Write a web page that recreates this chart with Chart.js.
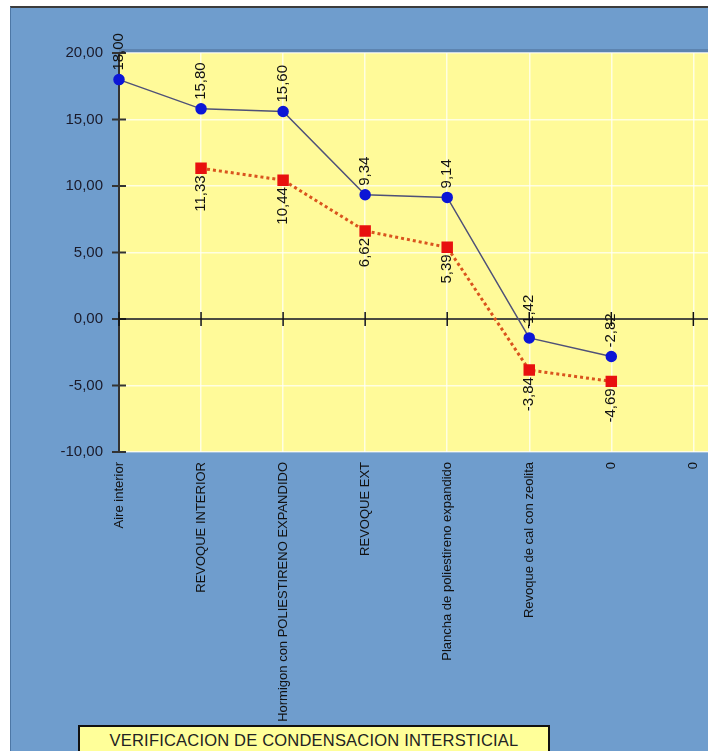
<!DOCTYPE html>
<html>
<head>
<meta charset="utf-8">
<script src="https://cdn.jsdelivr.net/npm/chart.js@4.4.1/dist/chart.umd.min.js"></script>
<style>
  html, body { margin: 0; padding: 0; overflow: hidden; background: #fff; width: 708px; height: 751px; }
  #frame { position: absolute; left: 10px; top: 6px; width: 820px; height: 760px;
           background: #6f9dcd; border-top: 2px solid #3c3c3c; border-left: 1px solid #4d77a5; }
  #chart { position: absolute; left: 0; top: 0; }
  #title { position: absolute; left: 78px; top: 725px; width: 472px; height: 30px;
           background: #ffff99; border: 2px solid #111; box-sizing: border-box;
           font: 16.5px "Liberation Sans", Arial, sans-serif; color: #222;
           text-align: center; padding-top: 4px; letter-spacing: 0.2px; }
</style>
</head>
<body>
<div id="frame"></div>
<canvas id="chart" width="801" height="751"></canvas>
<div id="title">VERIFICACION DE CONDENSACION INTERSTICIAL</div>
<script>
// layer names along the wall (last one is an empty spacer past the right edge)
const categories = ['Aire interior', 'REVOQUE INTERIOR', 'Hormigon con POLIESTIRENO EXPANDIDO',
  'REVOQUE EXT', 'Plancha de poliestireno expandido', 'Revoque de cal con zeolita', '0', '0', ''];

// temperature (blue) and dew point (red)
const temperature = [18.00, 15.80, 15.60, 9.34, 9.14, -1.42, -2.82, null, null];
const dewPoint = [null, 11.33, 10.44, 6.62, 5.39, -3.84, -4.69, null, null];

const yMin = -10, yMax = 20, yStep = 5;

const plotColor = '#fffa99';
const fmt = v => v.toFixed(2).replace('.', ',');

const decor = {
  id: 'decor',
  beforeDraw(chart) {
    const { ctx, chartArea: a } = chart;
    ctx.save();
    ctx.fillStyle = 'rgba(40,60,90,0.25)';
    ctx.fillRect(a.left, a.top - 4, a.right - a.left, 4);
    ctx.fillStyle = plotColor;
    ctx.fillRect(a.left, a.top, a.right - a.left, a.bottom - a.top);
    ctx.restore();
  },
  beforeDatasetsDraw(chart) {
    const { ctx, chartArea: a, scales: { x, y } } = chart;
    ctx.save();
    // y tick marks crossing the axis
    ctx.strokeStyle = '#333';
    ctx.lineWidth = 2;
    y.ticks.forEach((t, i) => {
      const py = y.getPixelForTick(i);
      ctx.beginPath();
      ctx.moveTo(a.left - 7, py);
      ctx.lineTo(a.left + 7, py);
      ctx.stroke();
    });
    // zero line with category ticks
    const y0 = y.getPixelForValue(0);
    ctx.strokeStyle = '#111';
    ctx.lineWidth = 1.5;
    ctx.beginPath();
    ctx.moveTo(a.left, y0);
    ctx.lineTo(a.right, y0);
    ctx.stroke();
    categories.forEach((c, i) => {
      const px = x.getPixelForValue(i);
      ctx.beginPath();
      ctx.moveTo(px, y0 - 7);
      ctx.lineTo(px, y0 + 7);
      ctx.stroke();
    });
    ctx.restore();
  },
  afterDatasetsDraw(chart) {
    const { ctx } = chart;
    ctx.save();
    ctx.font = '15px "Liberation Sans", Arial, sans-serif';
    ctx.fillStyle = '#111';
    ctx.textBaseline = 'middle';
    chart.data.datasets.forEach((ds, di) => {
      const meta = chart.getDatasetMeta(di);
      meta.data.forEach((pt, i) => {
        const v = ds.data[i];
        if (v === null || v === undefined) return;
        ctx.save();
        if (di === 0) {
          ctx.translate(pt.x, pt.y - 9);
          ctx.rotate(-Math.PI / 2);
          ctx.textAlign = 'left';
        } else {
          ctx.translate(pt.x, pt.y + 7);
          ctx.rotate(-Math.PI / 2);
          ctx.textAlign = 'right';
        }
        ctx.fillText(fmt(v), 0, 0);
        ctx.restore();
      });
    });
    ctx.restore();
  }
};

new Chart(document.getElementById('chart'), {
  type: 'line',
  data: {
    labels: categories,
    datasets: [{
      label: 'Temperatura',
      data: temperature,
      borderColor: '#4f5178',
      borderWidth: 1.5,
      pointStyle: 'circle',
      pointRadius: 5,
      pointBackgroundColor: '#0c16d6',
      pointBorderColor: '#0c16d6',
      tension: 0
    }, {
      label: 'Punto de rocio',
      data: dewPoint,
      borderColor: '#d9541e',
      borderWidth: 3,
      borderDash: [3, 3],
      pointStyle: 'rect',
      pointRadius: 6,
      pointBackgroundColor: '#e8110f',
      pointBorderColor: '#e8110f',
      tension: 0
    }]
  },
  options: {
    responsive: false,
    devicePixelRatio: 1,
    animation: false,
    layout: { padding: { top: 53, right: 15, left: 0, bottom: 0 } },
    plugins: { legend: { display: false }, tooltip: { enabled: false } },
    scales: {
      x: {
        offset: false,
        afterFit: s => { s.height = 299; },
        grid: { color: 'rgba(255,255,255,0.7)', lineWidth: 1.5, drawTicks: false },
        border: { display: false },
        ticks: {
          autoSkip: false, minRotation: 90, maxRotation: 90, padding: 10,
          color: '#111',
          font: { family: '"Liberation Sans", Arial, sans-serif', size: 13 }
        }
      },
      y: {
        min: yMin, max: yMax,
        afterFit: s => { s.width = 119; },
        grid: { color: 'rgba(255,255,255,0.7)', lineWidth: 1.5, drawTicks: false },
        border: { color: '#333', width: 2 },
        ticks: {
          stepSize: yStep, padding: 16, color: '#1a1a2a',
          font: { family: '"Liberation Sans", Arial, sans-serif', size: 15 },
          callback: v => fmt(v)
        }
      }
    }
  },
  plugins: [decor]
});
</script>
</body>
</html>
